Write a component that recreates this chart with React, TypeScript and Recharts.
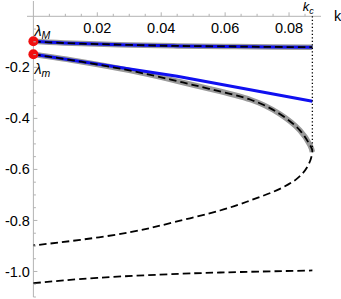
import React from "react"
import { Label, Line, LineChart, ReferenceDot, ReferenceLine, XAxis, YAxis } from "recharts"

// k values / eigenvalue branches
const kCrit = 0.0873

const upperK = [0, 0.005, 0.015, 0.03, 0.045, 0.06, 0.075, 0.0873]
const upperLam = [-0.098, -0.102, -0.107, -0.112, -0.116, -0.118, -0.12, -0.121]

const approxK = [0, 0.045, 0.0873]
const approxLam = [-0.149, -0.235, -0.333]

const stableK = [0, 0.015, 0.03, 0.043, 0.055, 0.068, 0.077, 0.0834, 0.0866, 0.0873]
const stableLam = [-0.149, -0.178, -0.212, -0.248, -0.284, -0.327, -0.382, -0.447, -0.506, -0.532]

const unstableK = [0.0873, 0.086, 0.0824, 0.0761, 0.0678, 0.0584, 0.044, 0.0303, 0.0147, 0]
const unstableLam = [-0.532, -0.584, -0.637, -0.682, -0.722, -0.761, -0.807, -0.846, -0.876, -0.898]

const bottomK = [0, 0.02, 0.046, 0.065, 0.0873]
const bottomLam = [-1.046, -1.025, -1.009, -1.002, -0.996]

const critK = [kCrit, kCrit]
const critLam = [0, -0.532]

const xTicks = [0.005, 0.01, 0.015, 0.02, 0.025, 0.03, 0.035, 0.04, 0.045, 0.05, 0.055, 0.06, 0.065, 0.07, 0.075, 0.08, 0.085]
const xMajor = [0.02, 0.04, 0.06, 0.08]
const yTicks = [-1.1, -1.05, -1, -0.95, -0.9, -0.85, -0.8, -0.75, -0.7, -0.65, -0.6, -0.55, -0.5, -0.45, -0.4, -0.35, -0.3, -0.25, -0.2, -0.15, -0.1, -0.05]
const yMajor = [-1, -0.8, -0.6, -0.4, -0.2]

const W = 341
const H = 299
const margin = { top: 0, right: 20, bottom: 2, left: 26 }
const AXIS_THICK = 1
const X_DOMAIN = [-0.002, 0.09]
const Y_DOMAIN = [-1.1, 0.06]

const PLOT_L = margin.left + AXIS_THICK
const PLOT_T = margin.top + AXIS_THICK
const AXIS_X = PLOT_L + ((0 - X_DOMAIN[0]) / (X_DOMAIN[1] - X_DOMAIN[0])) * (W - PLOT_L - margin.right)
const AXIS_Y = PLOT_T + ((Y_DOMAIN[1] - 0) / (Y_DOMAIN[1] - Y_DOMAIN[0])) * (H - PLOT_T - margin.bottom)

const FONT = "'Liberation Sans', Arial, sans-serif"
const FS = 14.5
const AXIS_GRAY = "#b3b3b3"
const BLUE = "#1010f0"
const BAND = "#9a9a9a"
const DASH = "7.5 4"

const rows = (ks: number[], ls: number[]) => ks.map((k, i) => ({ k, lam: ls[i] }))

const isMajor = (list: number[], v: number) => list.some((m) => Math.abs(m - v) < 1e-9)

const XTick = (props: any) => {
  const { x, payload } = props
  const major = isMajor(xMajor, payload.value)
  return (
    <g>
      <line x1={x} x2={x} y1={AXIS_Y} y2={AXIS_Y - (major ? 4 : 2.5)} stroke={AXIS_GRAY} />
      {major && (
        <text x={x} y={AXIS_Y + 16.5} textAnchor="middle" fontSize={FS} fontFamily={FONT} fill="#000">
          {payload.value.toFixed(2)}
        </text>
      )}
    </g>
  )
}

const YTick = (props: any) => {
  const { y, payload } = props
  const major = isMajor(yMajor, payload.value)
  return (
    <g>
      <line x1={AXIS_X} x2={AXIS_X + (major ? 4 : 2.5)} y1={y} y2={y} stroke={AXIS_GRAY} />
      {major && (
        <text x={AXIS_X - 3.5} y={y} dy="0.35em" textAnchor="end" fontSize={FS} fontFamily={FONT} fill="#000">
          {payload.value.toFixed(1)}
        </text>
      )}
    </g>
  )
}

const lamLabel = (sub: string, dy: number) => (props: any) => {
  const vb = props.viewBox
  const cx = vb.x + vb.width / 2
  const cy = vb.y + vb.height / 2
  return (
    <text x={cx + 1} y={cy + dy} fontSize={14.5} fontFamily={FONT} fontStyle="italic" fill="#000">
      λ
      <tspan fontSize={10.5} dy={3}>{sub}</tspan>
    </text>
  )
}

const kcLabel = (props: any) => {
  const vb = props.viewBox
  const cx = vb.x + vb.width / 2
  return (
    <text x={cx - 9.5} y={AXIS_Y - 5} fontSize={13} fontFamily={FONT} fontStyle="italic" fill="#000">
      k
      <tspan fontSize={9} dy={2.5}>c</tspan>
    </text>
  )
}

const kAxisLabel = (props: any) => {
  const vb = props.viewBox
  const cx = vb.x + vb.width / 2
  return (
    <text x={cx + 13} y={AXIS_Y + 5} fontSize={FS} fontFamily={FONT} fill="#000">
      k
    </text>
  )
}

export default function App() {
  const common = { dataKey: "lam", dot: false, activeDot: false, isAnimationActive: false, type: "natural" as const }
  return (
    <div style={{ position: "absolute", left: 0, top: 0, width: W, height: H, background: "#fff" }}>
      <LineChart width={W} height={H} margin={margin}>
        <XAxis
          type="number"
          dataKey="k"
          domain={X_DOMAIN}
          orientation="top"
          height={AXIS_THICK}
          axisLine={false}
          tickLine={false}
          ticks={xTicks}
          interval={0}
          tick={XTick}
          allowDataOverflow
        />
        <YAxis
          type="number"
          dataKey="lam"
          domain={Y_DOMAIN}
          width={AXIS_THICK}
          axisLine={false}
          tickLine={false}
          ticks={yTicks}
          interval={0}
          tick={YTick}
          allowDataOverflow
        />
        <ReferenceLine y={0} stroke={AXIS_GRAY} />
        <ReferenceLine x={0} stroke={AXIS_GRAY} />

        <Line {...common} data={rows(upperK, upperLam)} stroke={BAND} strokeWidth={5.5} />
        <Line {...common} data={rows(stableK, stableLam)} stroke={BAND} strokeWidth={5.5} />

        <Line {...common} data={rows(upperK, upperLam)} stroke={BLUE} strokeWidth={3} />
        <Line {...common} type="linear" data={rows(approxK, approxLam)} stroke={BLUE} strokeWidth={3} />

        <Line {...common} data={rows(upperK, upperLam)} stroke="#000" strokeWidth={1.8} strokeDasharray={DASH} />
        <Line
          {...common}
          data={rows([...stableK, ...unstableK.slice(1)], [...stableLam, ...unstableLam.slice(1)])}
          stroke="#000"
          strokeWidth={1.8}
          strokeDasharray={DASH}
        />
        <Line {...common} data={rows(bottomK, bottomLam)} stroke="#000" strokeWidth={1.8} strokeDasharray={DASH} />

        <Line {...common} type="linear" data={rows(critK, critLam)} stroke="#000" strokeWidth={1.3} strokeDasharray="1.3 2.2" />

        <ReferenceDot x={0} y={upperLam[0]} r={5} fill="#f01010" stroke="none" ifOverflow="visible">
          <Label content={lamLabel("M", -5)} />
        </ReferenceDot>
        <ReferenceDot x={0} y={stableLam[0]} r={5} fill="#f01010" stroke="none" ifOverflow="visible">
          <Label content={lamLabel("m", 20)} />
        </ReferenceDot>
        <ReferenceDot x={kCrit} y={0} r={0} fill="none" stroke="none" ifOverflow="visible">
          <Label content={kcLabel} />
        </ReferenceDot>
        <ReferenceDot x={X_DOMAIN[1]} y={0} r={0} fill="none" stroke="none" ifOverflow="visible">
          <Label content={kAxisLabel} />
        </ReferenceDot>
      </LineChart>
    </div>
  )
}
